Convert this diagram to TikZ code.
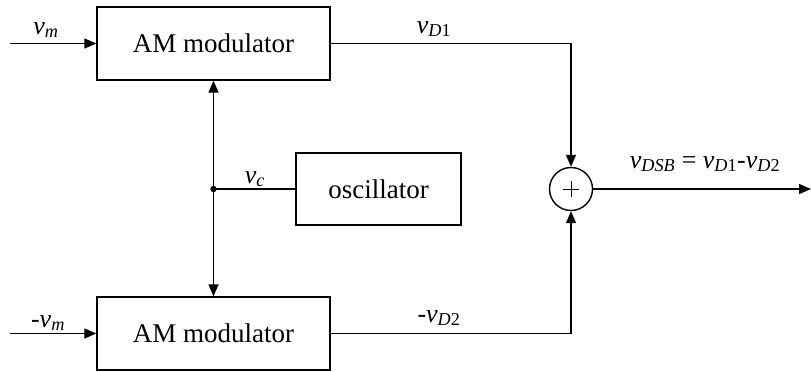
\documentclass[tikz,border=0pt]{standalone}
\usepackage{fontspec}
\setmainfont{Liberation Serif}
\usetikzlibrary{arrows.meta}
\newcommand{\sv}[1]{\textit{v}\textsubscript{#1}}
\begin{document}
\begin{tikzpicture}[x=1pt,y=-1pt,
  blk/.style={draw,line width=1.4pt,minimum width=233pt,minimum height=73pt,inner sep=0pt,font=\fontsize{27}{30}\selectfont},
  sig/.style={line width=1.4pt,-{Triangle[length=12pt,width=10pt]}},
  wire/.style={line width=1.4pt},
  lbl/.style={font=\fontsize{26}{28}\selectfont,anchor=base,inner sep=0pt}]
\useasboundingbox (0,0) rectangle (811,372);
\node[blk] (am1) at (213.5,43.5) {AM modulator};
\node[blk] (am2) at (213.5,333.5) {AM modulator};
\node[blk,minimum width=165pt,minimum height=72pt] (osc) at (378.5,189) {oscillator};
\node[circle,draw,line width=1.4pt,minimum size=43pt,inner sep=0pt] (sum) at (571,189) {};
\draw[line width=1pt] ([xshift=-8pt]sum.center) -- ([xshift=8pt]sum.center);
\draw[line width=1pt] ([yshift=-8pt]sum.center) -- ([yshift=8pt]sum.center);
\coordinate (in1) at (10,43.5);
\coordinate (in2) at (10,333.5);
\coordinate (out) at (811,189);
\coordinate (j) at (213.5,189);
\draw[sig] (in1) -- (am1.west);
\draw[sig] (in2) -- (am2.west);
\draw[sig] (am1.east) -| (sum.north);
\draw[sig] (am2.east) -| (sum.south);
\draw[sig] (sum.east) -- (out);
\draw[wire] (osc.west) -- (j);
\fill (j) circle (3.2pt);
\draw[sig] (j) -- (am1.south);
\draw[sig] (j) -- (am2.north);
\node[lbl] (lvm) at (46,34) {\sv{\textit{m}}};
\node[lbl] (lvmn) at (48,327) {-\sv{\textit{m}}};
\node[lbl] (lvd1) at (434,33) {\sv{\textit{D}1}};
\node[lbl] (lvd2) at (439,322) {-\sv{\textit{D}2}};
\node[lbl] (lvc) at (255,183) {\sv{\textit{c}}};
\node[lbl] (lvdsb) at (705,168) {\sv{\textit{DSB}} = \sv{\textit{D}1}-\sv{\textit{D}2}};
\end{tikzpicture}
\end{document}
